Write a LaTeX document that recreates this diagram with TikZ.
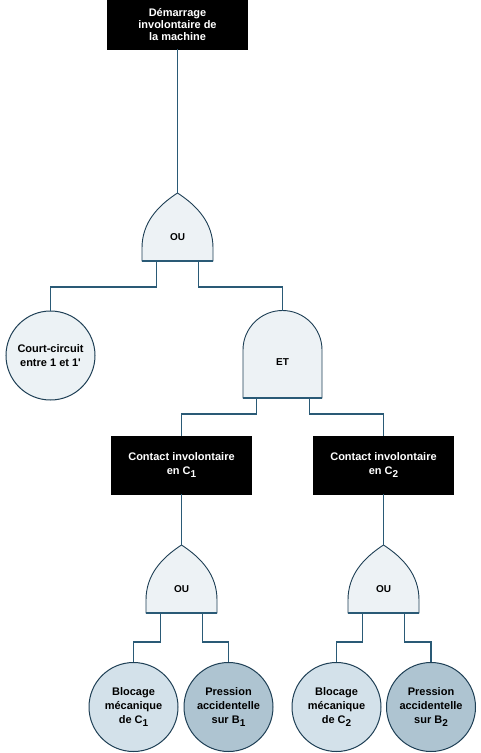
\documentclass[tikz,border=0pt]{standalone}
\usepackage{fontspec}
\setmainfont{Liberation Sans}
\definecolor{edge}{HTML}{1E3F55}
\definecolor{wirec}{HTML}{2A5A76}
\definecolor{gatefill}{HTML}{EDF2F5}
\definecolor{ccfill}{HTML}{ECF2F5}
\definecolor{blofill}{HTML}{D3E1EA}
\definecolor{prefill}{HTML}{AEC4D1}
\newcommand{\sbs}[1]{\raisebox{-0.45ex}{\fontsize{10}{10}\selectfont #1}}
\begin{document}
\begin{tikzpicture}[x=1pt,y=-1pt, font=\fontsize{11}{14}\selectfont\bfseries,
 event/.style={fill=black, draw=black, text=white, align=center, minimum width=140pt, minimum height=58pt, inner sep=0pt},
 basic/.style={circle, draw=edge, line width=1pt, minimum size=89pt, inner sep=0pt, align=center},
 wire/.style={draw=wirec, line width=1.1pt},
 gatelab/.style={font=\fontsize{10}{10}\selectfont\bfseries, inner sep=0pt},
 orgate/.pic={
   \path[fill=gatefill, draw=edge, line width=0.9pt] (-35.5,0) -- (-35.5,-13) .. controls (-35.5,-38) and (-20,-55) .. (0,-68) .. controls (20,-55) and (35.5,-38) .. (35.5,-13) -- (35.5,0) -- cycle;
   \draw[wire, line width=1.6pt] (-35.5,0) -- (35.5,0);
   \coordinate (-top) at (0,-68);
   \coordinate (-l) at (-21,0);
   \coordinate (-r) at (21,0);
   \node[gatelab] (-lab) at (0,-24) {OU};
 },
 andgate/.pic={
   \path[fill=gatefill, draw=edge, line width=0.9pt] (-39.5,0) -- (-39.5,-48) .. controls (-39.5,-69.8) and (-21.8,-87.5) .. (0,-87.5) .. controls (21.8,-87.5) and (39.5,-69.8) .. (39.5,-48) -- (39.5,0) -- cycle;
   \draw[wire, line width=1.6pt] (-39.5,0) -- (39.5,0);
   \coordinate (-top) at (0,-87.5);
   \coordinate (-l) at (-26,0);
   \coordinate (-r) at (27,0);
   \node[gatelab] (-lab) at (0,-36) {ET};
 }
]
\useasboundingbox (0,0) rectangle (480,753);
\node[event, minimum height=49pt, font=\fontsize{11}{12}\selectfont\bfseries] (top) at (177.5,24.5) {Démarrage\\involontaire de\\la machine};
\pic (g1) at (177.5,261) {orgate};
\node[basic, fill=ccfill] (cc) at (50.5,355.5) {Court-circuit\\entre 1 et 1\textquotesingle};
\pic (et) at (282.5,398) {andgate};
\node[event] (c1) at (181.5,465) {Contact involontaire\\en C\sbs{1}};
\node[event] (c2) at (383.5,465) {Contact involontaire\\en C\sbs{2}};
\pic (g2) at (181.5,613) {orgate};
\pic (g3) at (383.5,613) {orgate};
\node[basic, fill=blofill] (b1) at (133.5,707) {Blocage\\mécanique\\de C\sbs{1}};
\node[basic, fill=prefill] (p1) at (228.5,707) {Pression\\accidentelle\\sur B\sbs{1}};
\node[basic, fill=blofill] (b2) at (336.5,707) {Blocage\\mécanique\\de C\sbs{2}};
\node[basic, fill=prefill] (p2) at (431,707) {Pression\\accidentelle\\sur B\sbs{2}};
\draw[wire] (top.south) -- (g1-top);
\draw[wire] (g1-l) -- ++(0,26) -| (cc.north);
\draw[wire] (g1-r) -- ++(0,26) -| (et-top);
\draw[wire] (et-l) -- ++(0,16) -| (c1.north);
\draw[wire] (et-r) -- ++(0,16) -| (c2.north);
\draw[wire] (c1.south) -- (g2-top);
\draw[wire] (c2.south) -- (g3-top);
\draw[wire] (g2-l) -- ++(0,29) -| (b1.north);
\draw[wire] (g2-r) -- ++(0,29) -| (p1.north);
\draw[wire] (g3-l) -- ++(0,29) -| (b2.north);
\draw[wire] (g3-r) -- ++(0,29) -| (p2.north);
\end{tikzpicture}
\end{document}
